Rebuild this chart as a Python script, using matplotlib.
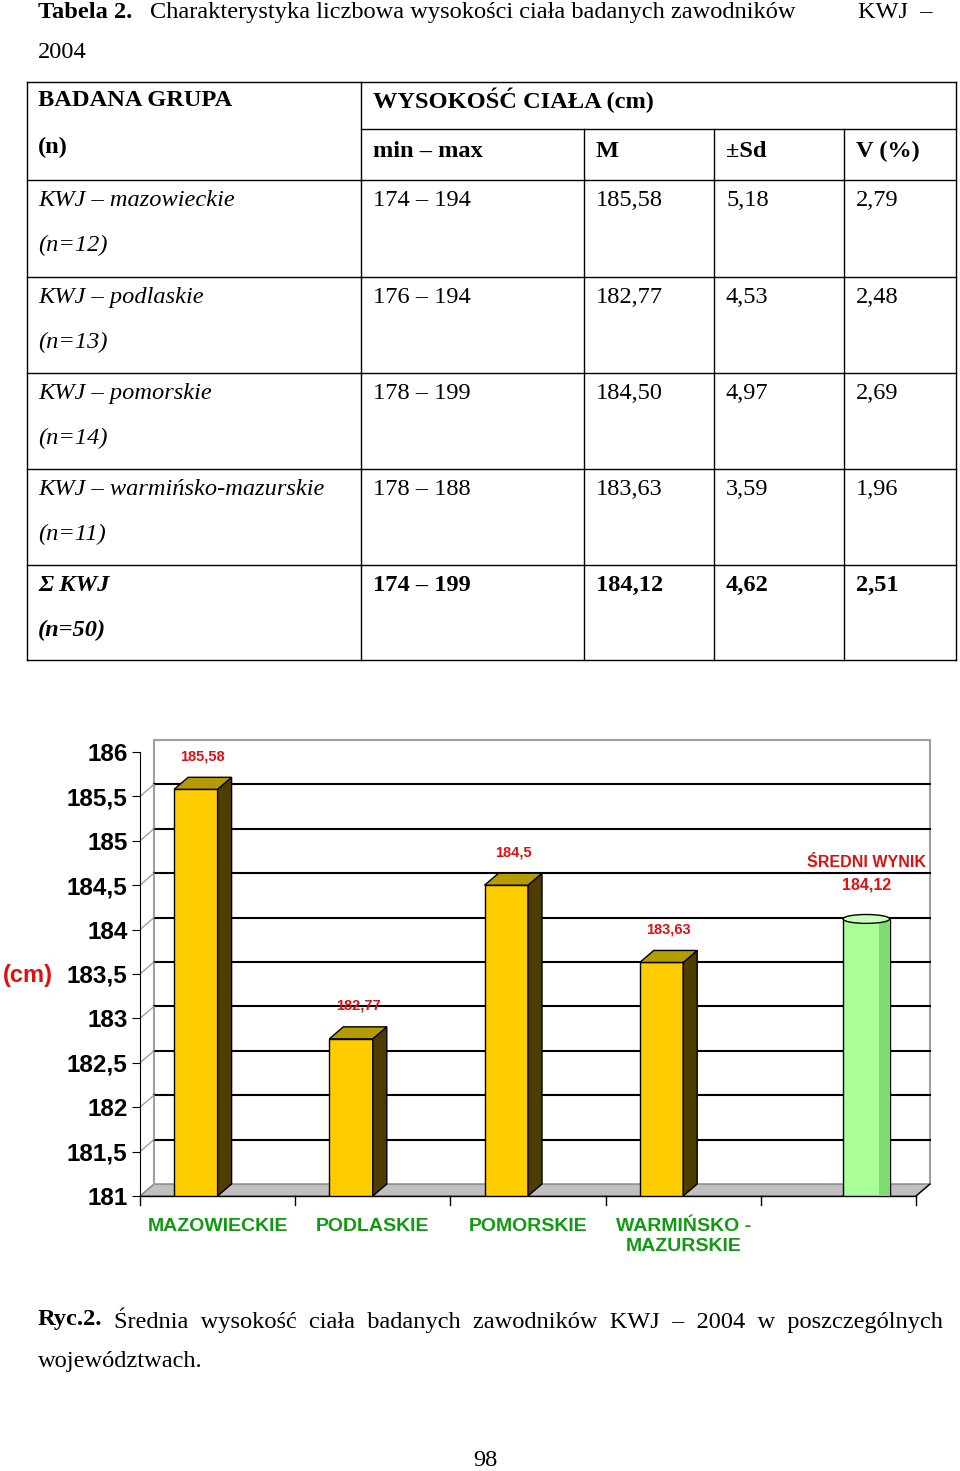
import matplotlib
matplotlib.use("Agg")
import matplotlib.pyplot as plt
from matplotlib.patches import Polygon, Rectangle, Ellipse

# ---------------- data ----------------
title_rest = "Charakterystyka liczbowa wysokości ciała badanych zawodników"
groups = ["KWJ – mazowieckie", "KWJ – podlaskie", "KWJ – pomorskie", "KWJ – warmińsko-mazurskie", "Σ KWJ"]
group_n = ["(n=12)", "(n=13)", "(n=14)", "(n=11)", "(n=50)"]
minmax = ["174 – 194", "176 – 194", "178 – 199", "178 – 188", "174 – 199"]
means_txt = ["185,58", "182,77", "184,50", "183,63", "184,12"]
sds = ["5,18", "4,53", "4,97", "3,59", "4,62"]
cvs = ["2,79", "2,48", "2,69", "1,96", "2,51"]

categories = ["MAZOWIECKIE", "PODLASKIE", "POMORSKIE", "WARMIŃSKO -\nMAZURSKIE"]
values = [185.58, 182.77, 184.5, 183.63]
value_labels = ["185,58", "182,77", "184,5", "183,63"]
mean_value = 184.12
mean_label = "ŚREDNI WYNIK\n184,12"
yticks = [181, 181.5, 182, 182.5, 183, 183.5, 184, 184.5, 185, 185.5, 186]
ytick_labels = ["181", "181,5", "182", "182,5", "183", "183,5", "184", "184,5", "185", "185,5", "186"]

W, H = 960, 1471
fig = plt.figure(figsize=(W / 100, H / 100), dpi=100)
page = fig.add_axes([0, 0, 1, 1])
page.set_xlim(0, W); page.set_ylim(H, 0); page.axis("off")

serif = "Liberation Serif"
fs = 17.6

def t(x, y, s, **kw):
    d = dict(fontfamily=serif, fontsize=fs, va="center", ha="left", color="black")
    d.update(kw)
    page.text(x, y, s, **d)

# title
t(38, 12, "Tabela 2.", fontweight="bold")
t(150, 12, title_rest)
t(858, 12, "KWJ  –")
t(38, 52, "2004")

# table lines
xs = [27, 361, 584, 714, 844, 956]
ys = [82, 180, 277, 373, 469, 565, 660]
lw = 1.0
for y in ys:
    page.plot([27, 956], [y, y], color="black", lw=lw)
page.plot([361, 956], [129, 129], color="black", lw=lw)
page.plot([27, 27], [82, 660], color="black", lw=lw)
page.plot([956, 956], [82, 660], color="black", lw=lw)
page.plot([361, 361], [82, 660], color="black", lw=lw)
for x in xs[2:5]:
    page.plot([x, x], [129, 660], color="black", lw=lw)

t(38, 100, "BADANA GRUPA", fontweight="bold")
t(38, 147, "(n)", fontweight="bold")
t(373, 100, "WYSOKOŚĆ CIAŁA (cm)", fontweight="bold")
for x, s in zip([373, 596, 726, 856], ["min – max", "M", "±Sd", "V (%)"]):
    t(x, 151, s, fontweight="bold")

for i in range(5):
    y0 = ys[i + 1] + 20
    bold = "bold" if i == 4 else "normal"
    t(38, y0, groups[i], style="italic", fontweight=bold)
    t(38, y0 + 45, group_n[i], style="italic", fontweight=bold)
    for x, s in zip([373, 596, 726, 856], [minmax[i], means_txt[i], sds[i], cvs[i]]):
        t(x, y0, s, fontweight=bold)

# caption
t(38, 1320, "Ryc.2.", fontweight="bold")
t(114, 1320, "Średnia  wysokość  ciała  badanych  zawodników  KWJ  –  2004  w  poszczególnych")
t(38, 1362, "województwach.")
t(485, 1460, "98", ha="center")

# ---------------- chart ----------------
L, R, B, T = 140, 916, 1196, 752
ax = fig.add_axes([L / W, 1 - B / H, (R - L) / W, (B - T) / H])
ax.patch.set_alpha(0)
ax.set_xlim(0, 5)
ax.set_ylim(181, 186)
for s in ["top", "right", "bottom"]:
    ax.spines[s].set_visible(False)
ax.spines["left"].set_color("black")
ax.set_xticks([])
ax.set_yticks(yticks)
ax.set_yticklabels(ytick_labels, fontfamily="Liberation Sans", fontweight="bold", fontsize=17.5)
ax.tick_params(axis="y", length=6, direction="out", pad=3)

dx = 14 / 155.2
dy = 12 / 88.8
# floor
ax.add_patch(Polygon([(0, 181), (5, 181), (5 + dx, 181 + dy), (dx, 181 + dy)],
                     closed=True, facecolor="#c0c0c0", edgecolor="#808080", lw=1, zorder=1,
                     clip_on=False))
# back wall
ax.plot([dx, dx], [181 + dy, 186 + dy], color="#a0a0a0", lw=1.5, zorder=1, clip_on=False)
ax.plot([dx, 5 + dx], [186 + dy, 186 + dy], color="#a0a0a0", lw=1.5, zorder=1, clip_on=False)
ax.plot([5 + dx, 5 + dx], [181 + dy, 186 + dy], color="#a0a0a0", lw=1.5, zorder=1, clip_on=False)
for v in yticks[1:-1]:
    ax.plot([dx, 5 + dx], [v + dy, v + dy], color="black", lw=1.5, zorder=1, clip_on=False)
    ax.plot([0, dx], [v, v + dy], color="#a0a0a0", lw=1, zorder=1)
# bottom axis + ticks
ax.plot([0, 5], [181, 181], color="black", lw=1, zorder=2, clip_on=False)
ax.plot([5, 5 + dx], [181, 181 + dy], color="black", lw=1, zorder=2, clip_on=False)
for k in range(6):
    ax.plot([k, k], [181, 181 - 0.1], color="black", lw=1, clip_on=False, zorder=2)

for i, (v, lab) in enumerate(zip(values, value_labels)):
    x0, x1 = i + 0.22, i + 0.50
    ax.add_patch(Rectangle((x0, 181), x1 - x0, v - 181, facecolor="#ffcc00", edgecolor="black", lw=1, zorder=3))
    ax.add_patch(Polygon([(x1, 181), (x1 + dx, 181 + dy), (x1 + dx, v + dy), (x1, v)],
                         closed=True, facecolor="#4d3d00", edgecolor="black", lw=1, zorder=3))
    ax.add_patch(Polygon([(x0, v), (x1, v), (x1 + dx, v + dy), (x0 + dx, v + dy)],
                         closed=True, facecolor="#b39b00", edgecolor="black", lw=1, zorder=3))
    ax.annotate(lab, ((x0 + x1 + dx) / 2, v + dy), xytext=(0, 10), textcoords="offset points",
                ha="center", va="bottom", color="#dd1111", fontweight="bold", fontsize=10.5,
                fontfamily="Liberation Sans", zorder=5)
    ax.text(i + 0.5, 180.75, categories[i], ha="center", va="top", color="#119911",
            fontweight="bold", fontsize=14, fontfamily="Liberation Sans", clip_on=False)

# mean cylinder
cx0, cx1 = 4 + 0.53, 4 + 0.83
ax.add_patch(Rectangle((cx0, 181), cx1 - cx0, mean_value - 181, facecolor="#aaff99",
                       edgecolor="black", lw=1, zorder=3))
ax.add_patch(Rectangle((cx1 - 0.07, 181), 0.07, mean_value - 181, facecolor="#7fdc70",
                       edgecolor="none", zorder=3))
ax.add_patch(Ellipse(((cx0 + cx1) / 2, mean_value), cx1 - cx0, 0.1, facecolor="#ccffbb",
                     edgecolor="black", lw=1, zorder=4))
ax.add_patch(Ellipse(((cx0 + cx1) / 2, 181), cx1 - cx0, 0.1, facecolor="#aaff99",
                     edgecolor="black", lw=1, zorder=2))
ax.text(4.68, 184.42, mean_label, ha="center", va="bottom", color="#dd1111", fontweight="bold",
        fontsize=11.5, fontfamily="Liberation Sans", linespacing=1.6, zorder=5)

page.text(3, 975, "(cm)", color="#dd1111", fontsize=17, fontweight="bold",
          fontfamily="Liberation Sans", va="center", ha="left")

fig.savefig("out.png", dpi=100)
